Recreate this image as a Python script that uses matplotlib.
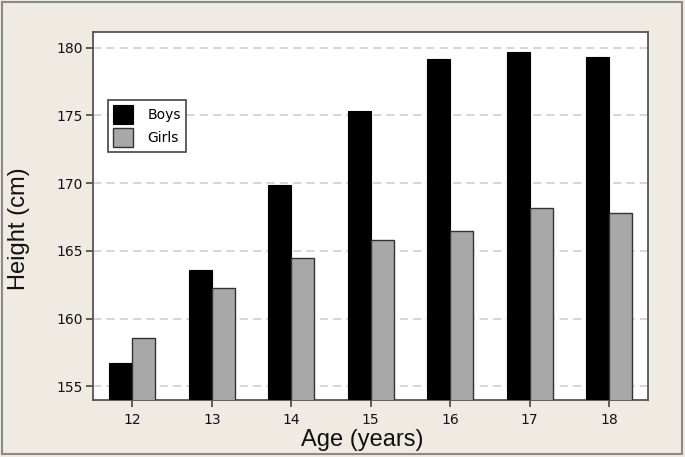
import numpy as np
import matplotlib
matplotlib.use("Agg")
import matplotlib.pyplot as plt
from matplotlib.patches import Rectangle

ages = [12, 13, 14, 15, 16, 17, 18]
boys = [156.7, 163.6, 169.9, 175.3, 179.2, 179.7, 179.3]
girls = [158.6, 162.3, 164.5, 165.8, 166.5, 168.2, 167.8]
yticks = [155, 160, 165, 170, 175, 180]


def main():
    bg = "#efebe3"
    fig = plt.figure(figsize=(6.85, 4.57), dpi=100, facecolor=bg)
    ax = fig.add_axes([0.1353, 0.1247, 0.8107, 0.8059])

    x = np.array(ages)
    w = 0.29
    ax.bar(x - w / 2, boys, width=w, color="black", edgecolor="black",
           linewidth=0.8, label="Boys", zorder=3)
    ax.bar(x + w / 2, girls, width=w, color="#a8a8a8", edgecolor="#333333",
           linewidth=1.0, label="Girls", zorder=3)

    ax.set_xlim(11.5, 18.49)
    ax.set_ylim(154.0, 181.18)
    ax.set_xticks(ages)
    ax.set_yticks(yticks)
    ax.tick_params(axis="both", labelsize=10, length=5, width=1.2,
                   color="#444444", labelcolor="#111111")
    ax.tick_params(axis="x", pad=4)
    ax.tick_params(axis="y", pad=2)
    ax.yaxis.grid(True, linestyle=(0, (5, 3)), color="#cfcfcf", linewidth=1.2, zorder=0)
    ax.set_axisbelow(True)

    for s in ax.spines.values():
        s.set_color("#555555")
        s.set_linewidth(1.3)

    ax.set_xlabel("Age (years)", fontsize=17, family="Liberation Sans", color="#111111")
    ax.set_ylabel("Height (cm)", fontsize=17, family="Liberation Sans", color="#111111")
    ax.xaxis.set_label_coords(0.485, -0.078)
    ax.yaxis.set_label_coords(-0.113, 0.465)

    leg = ax.legend(loc="upper left", bbox_to_anchor=(0.027, 0.815), borderaxespad=0,
                    fontsize=10, handlelength=1.5, handleheight=1.75, handletextpad=1.0,
                    labelspacing=0.3, borderpad=0.35, fancybox=False, framealpha=1)
    leg.get_frame().set_edgecolor("#444444")
    leg.get_frame().set_linewidth(1.2)

    # outer frame of the picture
    fig.patches.append(Rectangle((0.003, 0.007), 0.992, 0.988, transform=fig.transFigure,
                                 fill=False, edgecolor="#8a8a8a", linewidth=1.5))

    fig.savefig("out.png", dpi=100, facecolor=bg)


if __name__ == "__main__":
    main()
